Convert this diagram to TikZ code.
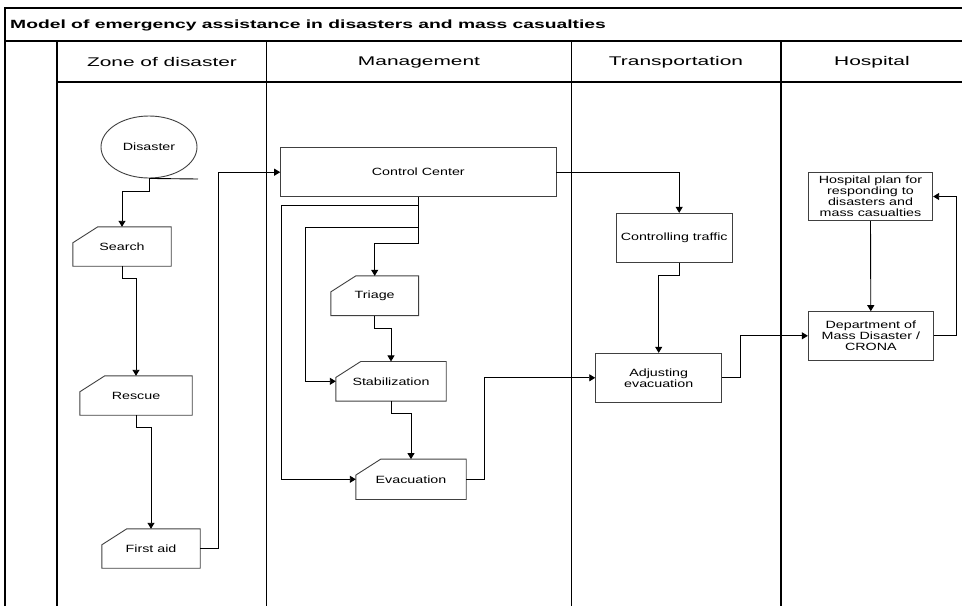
\documentclass[tikz,border=0pt]{standalone}
\usepackage{fontspec}
\usetikzlibrary{arrows.meta,shapes.geometric}
% Arial-metric sans, widened to the lettering of the chart
\newfontfamily\lblfont[FakeStretch=1.36]{Liberation Sans}
\newfontfamily\hdrfont[FakeStretch=1.66]{Liberation Sans}
\newfontfamily\ttlfont[FakeStretch=1.62]{Liberation Sans}

\tikzset{
  frame/.style={line width=1.3pt, black},
  conn/.style={line width=0.9pt, black},
  arr/.style={conn, -{Triangle[length=6pt,width=7pt]}},
  boxline/.style={line width=0.9pt, black!75},
  lbl/.style={font=\lblfont\fontsize{10.5}{11}\selectfont, align=center, inner sep=0pt},
  plainbox/.style={lbl, draw=black!75, line width=0.9pt, minimum width=#1},
  cardbox/.style={lbl, minimum width=#1},
  hdr/.style={font=\hdrfont\fontsize{12.6}{14}\selectfont, inner sep=0pt},
}
% card outline (cut top-left corner) around a named node
\newcommand\cardoutline[1]{%
  \draw[boxline] ([yshift=-16pt]#1.north west) -- ([xshift=25pt]#1.north west)
    -- (#1.north east) -- (#1.south east) -- (#1.south west) -- cycle;}

\begin{document}
\begin{tikzpicture}[x=1pt,y=-1pt]
\useasboundingbox (0,0) rectangle (962,606);

% swimlane frame
\draw[frame] (5,606) -- (5,8) -- (964,8);
\draw[frame] (5,41) -- (964,41);
\draw[frame] (57,82) -- (964,82);
\foreach \lx in {57,266.7,571.7,781} \draw[frame] (\lx,41) -- (\lx,606);

\node[anchor=west, font=\ttlfont\bfseries\fontsize{11.9}{13}\selectfont, inner sep=0pt]
  (title) at (10,25) {Model of emergency assistance in disasters and mass casualties};
\node[hdr] (hzone)  at (162,62)   {Zone of disaster};
\node[hdr] (hman)   at (419,62)   {Management};
\node[hdr] (htrans) at (676,62)   {Transportation};
\node[hdr] (hhosp)  at (872,62)   {Hospital};

% zone of disaster
\node[lbl, ellipse, draw=black!75, line width=0.9pt, minimum width=96pt, minimum height=62pt]
  (disaster) at (149,147) {Disaster};
\node[cardbox=98pt,  minimum height=39pt] (search)   at (122,246.5) {Search};
\node[cardbox=112pt, minimum height=39pt] (rescue)   at (136,395.5) {Rescue};
\node[cardbox=98pt,  minimum height=39pt] (firstaid) at (151,548.5) {First aid};

% management
\node[plainbox=275.3pt, minimum height=49pt] (control) at (418.3,172.2) {Control Center};
\node[cardbox=87.3pt, minimum height=39.3pt] (triage) at (374.7,295.7) {Triage};
\node[cardbox=110pt,  minimum height=39.3pt] (stab)   at (391,381.3)   {Stabilization};
\node[cardbox=110pt,  minimum height=40pt]   (evac)   at (411,479.3)   {Evacuation};

% transportation
\node[plainbox=116.3pt, minimum height=49.4pt] (traffic) at (674.2,238) {Controlling traffic};
\node[plainbox=126pt,   minimum height=49pt]   (adjust)  at (658.7,377.8) {Adjusting\\evacuation};

% hospital
\node[plainbox=124.4pt, minimum height=48.4pt] (hplan) at (870.5,196.5)
  {Hospital plan for\\responding to\\disasters and\\mass casualties};
\node[plainbox=125pt, minimum height=48.3pt] (dept) at (870.8,335.8)
  {Department of\\Mass Disaster /\\CRONA};

\cardoutline{search}
\cardoutline{rescue}
\cardoutline{firstaid}
\cardoutline{triage}
\cardoutline{stab}
\cardoutline{evac}

% connectors
\coordinate (stubend) at (198,179);
\draw[conn] (disaster.south) -- (stubend);
\draw[arr] (disaster.south) -- ++(0,13) -| (search.north);
\draw[arr] (search.south) -- ++(0,12) -| (rescue.north);
\draw[arr] (rescue.south) -- ++(0,12) -| (firstaid.north);
\draw[arr] (firstaid.east) -- ++(18.7,0) |- (control.west);

\draw[arr] (control.south) -- ++(0,46) -| (triage.north);
\draw[arr] ([yshift=-30pt]control.south) -- ++(-112.6,0) |- (stab.west);
\draw[arr] ([yshift=-8.3pt]control.south) -- ++(-137.3,0) |- (evac.west);
\draw[arr] (triage.south) -- ++(0,12.7) -| (stab.north);
\draw[arr] (stab.south) -- ++(0,12.3) -| (evac.north);
\draw[arr] (evac.east) -- ++(18.3,0) |- (adjust.west);

\draw[arr] (control.east) -| ([xshift=5pt]traffic.north);
\draw[arr] ([xshift=5pt]traffic.south) -- ++(0,12.3) -| (adjust.north);
\draw[arr] (adjust.east) -- ++(18.3,0) |- (dept.west);

\draw[arr] (hplan.south) -- (dept.north);
\draw[arr] (dept.east) -- ++(22.7,0) |- (hplan.east);
\end{tikzpicture}
\end{document}
